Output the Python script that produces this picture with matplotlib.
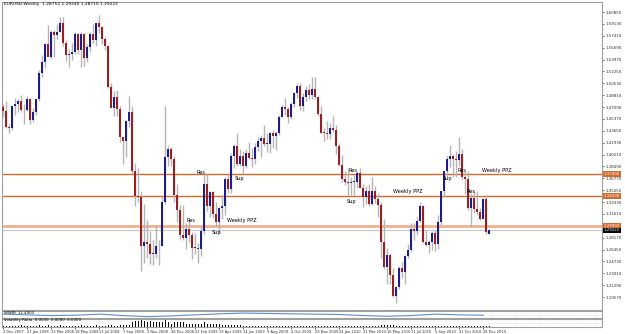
import matplotlib
matplotlib.use("Agg")
import matplotlib.pyplot as plt

# weekly EURUSD candles, week of 2 Dec 2007 .. week of 9 Jan 2011
opens = [1.4710, 1.4650, 1.4420, 1.4400, 1.4720, 1.4750, 1.4790, 1.4670, 1.4660, 1.4830,
         1.4520, 1.4640, 1.4820, 1.5200, 1.5360, 1.5620, 1.5440, 1.5790, 1.5750, 1.5800,
         1.5920, 1.5640, 1.5460, 1.5470, 1.5510, 1.5760, 1.5540, 1.5770, 1.5420, 1.5580,
         1.5770, 1.5680, 1.5920, 1.5870, 1.5700, 1.5600, 1.5000, 1.4700, 1.4850, 1.4680,
         1.4280, 1.4220, 1.4500, 1.4630, 1.3780, 1.3420, 1.3400, 1.2700, 1.2750, 1.2720,
         1.2580, 1.2580, 1.2690, 1.2700, 1.3330, 1.3990, 1.4100, 1.3950, 1.3440, 1.3220,
         1.2850, 1.2810, 1.2940, 1.2850, 1.2670, 1.2670, 1.2660, 1.2920, 1.3590, 1.3280,
         1.3480, 1.3160, 1.3040, 1.3240, 1.3270, 1.3660, 1.3520, 1.4000, 1.4150, 1.3890,
         1.4000, 1.3860, 1.4040, 1.3970, 1.3950, 1.4130, 1.4210, 1.4260, 1.4180, 1.4180,
         1.4330, 1.4290, 1.4330, 1.4570, 1.4710, 1.4680, 1.4560, 1.4750, 1.4910, 1.5010,
         1.4720, 1.4860, 1.4960, 1.4880, 1.4970, 1.4850, 1.4610, 1.4340, 1.4330, 1.4320,
         1.4410, 1.4380, 1.4140, 1.3870, 1.3670, 1.3620, 1.3610, 1.3620, 1.3620, 1.3760,
         1.3540, 1.3410, 1.3490, 1.3300, 1.3500, 1.3380, 1.3290, 1.2750, 1.2390, 1.2570,
         1.2280, 1.1970, 1.2110, 1.2380, 1.2320, 1.2550, 1.2640, 1.2940, 1.2910, 1.3060,
         1.3280, 1.2760, 1.2710, 1.2760, 1.2890, 1.2720, 1.3050, 1.3490, 1.3790, 1.3950,
         1.4000, 1.3960, 1.3940, 1.4030, 1.3700, 1.3670, 1.3240, 1.3390, 1.3230, 1.3190,
         1.3090, 1.3380, 1.2875]
highs = [1.4750, 1.4790, 1.4470, 1.4730, 1.4840, 1.4830, 1.4890, 1.4750, 1.4870, 1.4840,
         1.4700, 1.4830, 1.5240, 1.5460, 1.5640, 1.5900, 1.5820, 1.5820, 1.5910, 1.6020,
         1.6020, 1.5680, 1.5550, 1.5630, 1.5790, 1.5780, 1.5800, 1.5780, 1.5620, 1.5790,
         1.5910, 1.5930, 1.6040, 1.5880, 1.5720, 1.5610, 1.5050, 1.4940, 1.4950, 1.4720,
         1.4280, 1.4520, 1.4870, 1.4720, 1.3900, 1.3830, 1.3500, 1.3300, 1.3070, 1.2920,
         1.2790, 1.3000, 1.2780, 1.3400, 1.4720, 1.4140, 1.4130, 1.4000, 1.3590, 1.3290,
         1.3290, 1.3030, 1.3070, 1.2900, 1.2880, 1.2740, 1.2980, 1.3740, 1.3740, 1.3490,
         1.3490, 1.3330, 1.3260, 1.3430, 1.3690, 1.3740, 1.4050, 1.4180, 1.4340, 1.4100,
         1.4070, 1.4100, 1.4200, 1.4120, 1.4190, 1.4280, 1.4300, 1.4450, 1.4340, 1.4350,
         1.4380, 1.4360, 1.4600, 1.4740, 1.4840, 1.4710, 1.4780, 1.4930, 1.5060, 1.5060,
         1.4910, 1.5010, 1.5040, 1.5145, 1.5140, 1.4870, 1.4720, 1.4400, 1.4510, 1.4480,
         1.4580, 1.4450, 1.4190, 1.4020, 1.3790, 1.3820, 1.3690, 1.3740, 1.3790, 1.3820,
         1.3590, 1.3560, 1.3600, 1.3690, 1.3560, 1.3470, 1.3340, 1.3090, 1.2670, 1.2590,
         1.2380, 1.2120, 1.2400, 1.2470, 1.2570, 1.2720, 1.3030, 1.3030, 1.3120, 1.3330,
         1.3290, 1.2930, 1.2780, 1.2910, 1.2930, 1.3150, 1.3500, 1.3790, 1.4000, 1.4160,
         1.4030, 1.4070, 1.4280, 1.4100, 1.3790, 1.3790, 1.3460, 1.3500, 1.3500, 1.3250,
         1.3390, 1.3440, 1.2924]
lows = [1.4560, 1.4400, 1.4340, 1.4380, 1.4590, 1.4630, 1.4640, 1.4460, 1.4650, 1.4470,
        1.4490, 1.4600, 1.4800, 1.5150, 1.5270, 1.5450, 1.5400, 1.5440, 1.5700, 1.5790,
        1.5600, 1.5370, 1.5290, 1.5390, 1.5480, 1.5480, 1.5290, 1.5300, 1.5360, 1.5500,
        1.5640, 1.5600, 1.5780, 1.5620, 1.5530, 1.4980, 1.4700, 1.4580, 1.4580, 1.4200,
        1.3880, 1.3980, 1.4420, 1.3720, 1.3270, 1.3340, 1.2330, 1.2450, 1.2520, 1.2440,
        1.2420, 1.2530, 1.2420, 1.2690, 1.3300, 1.3860, 1.3860, 1.3340, 1.3050, 1.2800,
        1.2780, 1.2660, 1.2760, 1.2510, 1.2580, 1.2450, 1.2550, 1.2870, 1.3210, 1.3110,
        1.3100, 1.2970, 1.2890, 1.3090, 1.3150, 1.3460, 1.3470, 1.3830, 1.3850, 1.3850,
        1.3750, 1.3830, 1.3960, 1.3840, 1.3890, 1.4070, 1.3990, 1.4150, 1.4060, 1.4050,
        1.4120, 1.4090, 1.4300, 1.4560, 1.4600, 1.4480, 1.4540, 1.4710, 1.4840, 1.4670,
        1.4650, 1.4790, 1.4820, 1.4830, 1.4830, 1.4580, 1.4330, 1.4220, 1.4250, 1.4240,
        1.4350, 1.4030, 1.3850, 1.3620, 1.3580, 1.3440, 1.3440, 1.3430, 1.3530, 1.3530,
        1.3260, 1.3310, 1.3270, 1.3290, 1.3320, 1.3110, 1.2520, 1.2360, 1.2140, 1.2150,
        1.1960, 1.1875, 1.2070, 1.2230, 1.2150, 1.2520, 1.2610, 1.2790, 1.2850, 1.3040,
        1.2740, 1.2690, 1.2590, 1.2640, 1.2630, 1.2660, 1.3000, 1.3410, 1.3690, 1.3840,
        1.3700, 1.3700, 1.3860, 1.3660, 1.3450, 1.3220, 1.2970, 1.3170, 1.3150, 1.3070,
        1.3090, 1.2870, 1.2871]
closes = [1.4650, 1.4420, 1.4400, 1.4720, 1.4750, 1.4790, 1.4670, 1.4660, 1.4830, 1.4520,
          1.4640, 1.4820, 1.5200, 1.5360, 1.5620, 1.5440, 1.5790, 1.5750, 1.5800, 1.5920,
          1.5640, 1.5460, 1.5470, 1.5510, 1.5760, 1.5540, 1.5770, 1.5420, 1.5580, 1.5770,
          1.5680, 1.5920, 1.5870, 1.5700, 1.5600, 1.5000, 1.4700, 1.4850, 1.4680, 1.4280,
          1.4220, 1.4500, 1.4630, 1.3780, 1.3420, 1.3400, 1.2700, 1.2750, 1.2720, 1.2580,
          1.2580, 1.2690, 1.2700, 1.3330, 1.3990, 1.4100, 1.3950, 1.3440, 1.3220, 1.2850,
          1.2810, 1.2940, 1.2850, 1.2670, 1.2670, 1.2660, 1.2920, 1.3590, 1.3280, 1.3480,
          1.3160, 1.3040, 1.3240, 1.3270, 1.3660, 1.3520, 1.4000, 1.4150, 1.3890, 1.4000,
          1.3860, 1.4040, 1.3970, 1.3950, 1.4130, 1.4210, 1.4260, 1.4180, 1.4180, 1.4330,
          1.4290, 1.4330, 1.4570, 1.4710, 1.4680, 1.4560, 1.4750, 1.4910, 1.5010, 1.4720,
          1.4860, 1.4960, 1.4880, 1.4970, 1.4850, 1.4610, 1.4340, 1.4330, 1.4320, 1.4410,
          1.4380, 1.4140, 1.3870, 1.3670, 1.3620, 1.3610, 1.3620, 1.3620, 1.3760, 1.3540,
          1.3410, 1.3490, 1.3300, 1.3500, 1.3380, 1.3290, 1.2750, 1.2390, 1.2570, 1.2280,
          1.1970, 1.2110, 1.2380, 1.2320, 1.2550, 1.2640, 1.2940, 1.2910, 1.3060, 1.3280,
          1.2760, 1.2710, 1.2760, 1.2890, 1.2720, 1.3050, 1.3490, 1.3790, 1.3950, 1.4000,
          1.3960, 1.3940, 1.4030, 1.3700, 1.3670, 1.3240, 1.3390, 1.3230, 1.3190, 1.3090,
          1.3380, 1.2900, 1.2922]

date_labels = ["2 Dec 2007", "27 Jan 2008", "23 Mar 2008", "18 May 2008", "13 Jul 2008",
               "7 Sep 2008", "2 Nov 2008", "28 Dec 2008", "22 Feb 2009", "19 Apr 2009",
               "14 Jun 2009", "9 Aug 2009", "4 Oct 2009", "29 Nov 2009", "24 Jan 2010",
               "21 Mar 2010", "16 May 2010", "11 Jul 2010", "5 Sep 2010", "31 Oct 2010",
               "26 Dec 2010"]

# horizontal levels drawn on the chart
ppz_levels = [1.3740, 1.3420]
ppz_band = 1.2990
bid = 1.29222

# text notes: (text, week index, price)
notes = [("Res", 64.5, 1.3768), ("Sup", 77.0, 1.3667), ("Res", 115.0, 1.3783),
         ("Weekly PPZ", 130.0, 1.3493), ("Sup", 114.5, 1.3348), ("Sup", 146.5, 1.3681),
         ("Res", 151.5, 1.3783), ("Weekly PPZ", 159.5, 1.3783), ("Res", 154.5, 1.3493),
         ("Res", 61.0, 1.3059), ("Weekly PPZ", 74.5, 1.3073), ("Sup", 69.5, 1.2899)]

# sub window indicator line (one value every 8 weeks) and volatility bars
ind_line = [0.55, 0.45, 0.35, 0.40, 0.55, 0.35, 0.20, 0.30, 0.45, 0.60, 0.70,
            0.65, 0.60, 0.55, 0.50, 0.35, 0.25, 0.35, 0.55, 0.45, 0.40]
vol_bars = [1, 1, 1, 1, 1, 1, 2, 1, 1, 1, 1, 1, 2, 1, 1, 2, 1, 1, 1, 2,
            1, 1, 1, 1, 1, 1, 2, 1, 1, 1, 1, 2, 1, 1, 1, 2, 2, 1, 1, 2,
            2, 2, 2, 4, 5, 5, 6, 5, 4, 5, 4, 4, 4, 4, 6, 4, 3, 4, 4, 4,
            4, 3, 3, 3, 3, 3, 3, 4, 3, 3, 3, 3, 3, 2, 2, 2, 2, 2, 2, 2,
            1, 1, 1, 1, 1, 1, 1, 1, 1, 1, 1, 1, 1, 1, 1, 1, 1, 1, 1, 1,
            1, 1, 1, 1, 1, 1, 1, 1, 1, 1, 1, 1, 1, 1, 1, 1, 1, 1, 1, 1,
            1, 1, 1, 1, 1, 1, 2, 2, 2, 2, 2, 1, 1, 1, 1, 1, 1, 1, 1, 1,
            1, 1, 1, 1, 1, 1, 1, 1, 1, 1, 1, 1, 1, 1, 1, 1, 1, 1, 1, 1,
            1, 1, 1]

W, H = 625, 334
fig = plt.figure(figsize=(W / 100, H / 100), dpi=100)
fig.patch.set_facecolor("white")


def frame(top, bottom):
    # axes from pixel rows, x from 2 to 602
    return fig.add_axes([2 / W, 1 - bottom / H, 600 / W, (bottom - top) / H])


ax = frame(2, 310)
ax2 = frame(311, 318)
ax3 = frame(319, 327)

xlim = (-0.4, 199.6)
p_top = 1.6230
p_bot = 1.1770

up_col = "#1c1c8c"
dn_col = "#9b1f1f"
wick_col = "#b4b4b4"
lvl_col = "#d2692d"

for i in range(len(closes)):
    o, h, l, c = opens[i], highs[i], lows[i], closes[i]
    ax.vlines(i, l, h, color=wick_col, lw=1.0, zorder=2)
    col = up_col if c >= o else dn_col
    body = abs(c - o)
    if body < 0.0012:
        body = 0.0012
    ax.bar(i, body, bottom=min(o, c), width=0.68, color=col, lw=0, zorder=3)

for lv in ppz_levels:
    ax.axhline(lv, color=lvl_col, lw=1.0, zorder=1)
ax.axhline(ppz_band, color="#f0b090", lw=2.0, zorder=1)
ax.axhline(bid, color="#c8c8c8", lw=0.8, zorder=1)

for txt, xi, pr in notes:
    ax.text(xi, pr, txt, fontsize=3.6, color="black", ha="left", va="center", zorder=4)

ax.text(0.3, 1.6195, "EURUSD,Weekly  1.28752 1.29240 1.28710 1.29222",
        fontsize=3.2, color="black", ha="left", va="center")

ax.set_xlim(*xlim)
ax.set_ylim(p_bot, p_top)

# price scale on the right
step = 0.0172
ticks = [1.6085 - k * step for k in range(25)]
ax.yaxis.tick_right()
ax.set_yticks(ticks)
ax.set_yticklabels(["%.5f" % t for t in ticks], fontsize=2.9)
ax.tick_params(axis="y", length=1.5, width=0.5, pad=0.8, colors="#303030")
ax.set_xticks([])

# coloured price tags for the levels
for lv, fc, tc in [(ppz_levels[0], lvl_col, "white"), (ppz_levels[1], lvl_col, "white"),
                   (ppz_band, lvl_col, "white"), (bid, "black", "white")]:
    ax.text(1.003, lv, "%.5f" % lv, transform=ax.get_yaxis_transform(),
            fontsize=2.9, color=tc, ha="left", va="center",
            bbox=dict(boxstyle="square,pad=0.15", fc=fc, ec="none"), zorder=6, clip_on=False)

for a in (ax, ax2, ax3):
    for s in ("top", "left", "bottom", "right"):
        a.spines[s].set_color("#a0a0a0")
        a.spines[s].set_linewidth(0.8)

# indicator window
ax2.plot([8 * k for k in range(len(ind_line))], ind_line, color="#5a8fc8", lw=0.8)
ax2.set_xlim(*xlim)
ax2.set_ylim(0, 1)
ax2.set_xticks([])
ax2.set_yticks([])
ax2.text(0.3, 0.75, "WWRF 12.4903", fontsize=2.8, ha="left", va="center")
ax2.axhline(0.5, xmin=0.81, color="#c0c0c0", lw=0.5, ls=":")

# volatility bars
ax3.bar(range(len(vol_bars)), vol_bars, width=0.45, color="black", lw=0)
ax3.set_xlim(*xlim)
ax3.set_ylim(0, 7)
ax3.set_yticks([])
ax3.text(0.3, 6.0, "Volatility Ratio  0.0000  0.0000  0.0000", fontsize=2.8,
         ha="left", va="center")
ax3.axhline(3.5, xmin=0.81, color="#c0c0c0", lw=0.5, ls=":")

# date labels under the bottom window
ax3.set_xticks([8 * k for k in range(len(date_labels))])
ax3.set_xticklabels(date_labels, fontsize=2.6, ha="left")
ax3.tick_params(axis="x", length=1.5, width=0.5, pad=0.8, colors="#303030")

fig.savefig("out.png", dpi=100)
